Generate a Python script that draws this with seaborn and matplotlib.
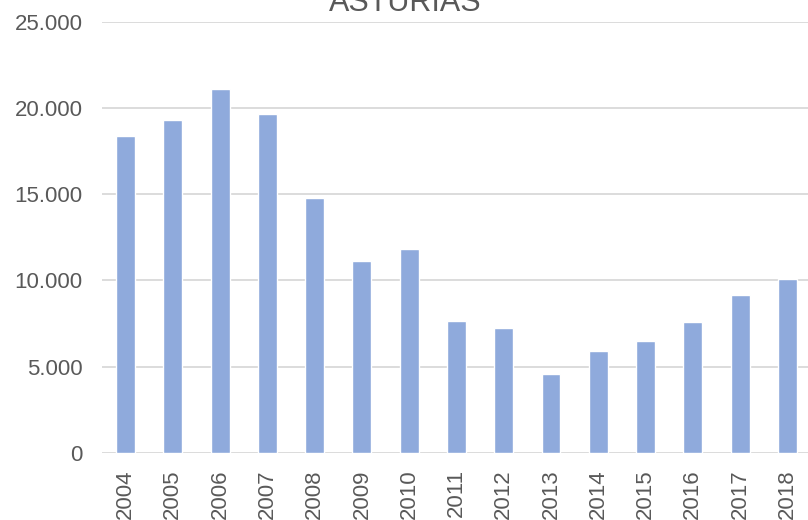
import seaborn as sns
import matplotlib.pyplot as plt
from matplotlib.ticker import FuncFormatter

years = ['2004', '2005', '2006', '2007', '2008', '2009', '2010', '2011',
         '2012', '2013', '2014', '2015', '2016', '2017', '2018']
values = [18370, 19320, 21130, 19650, 14790, 11140, 11850, 7640,
          7240, 4550, 5900, 6460, 7580, 9170, 10110]

sns.set_style('white')
plt.rcParams['font.family'] = ['Liberation Sans', 'DejaVu Sans']

text_color = '#595959'
grid_color = '#D9D9D9'

fig = plt.figure(figsize=(8.08, 5.2), dpi=100)
ax = fig.add_axes([101.9 / 808, (520 - 452.7) / 520, (811 - 101.9) / 808, (452.7 - 22) / 520])

sns.barplot(x=years, y=values, color='#8FAADC', saturation=1, width=0.4, ax=ax)

ax.set_ylim(0, 25000)
ax.set_yticks(range(0, 25001, 5000))
ax.yaxis.set_major_formatter(FuncFormatter(lambda v, p: f'{v:,.0f}'.replace(',', '.')))
ax.grid(axis='y', color=grid_color, linewidth=1.3)
ax.set_axisbelow(True)
for s in ax.spines.values():
    s.set_visible(False)

ax.tick_params(axis='y', length=0, pad=14, labelsize=16, labelcolor=text_color)
ax.tick_params(axis='x', length=0, pad=12, labelsize=16, labelcolor=text_color, rotation=90)
ax.set_xlabel('')
ax.set_ylabel('')

fig.text(405 / 808, (520 - 11) / 520, 'ASTURIAS', ha='center', va='baseline',
         fontsize=22, color=text_color)

fig.savefig('out.png', dpi=100)
